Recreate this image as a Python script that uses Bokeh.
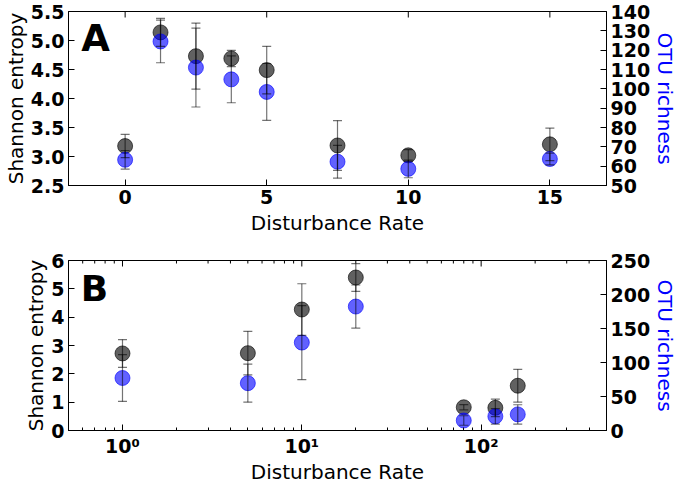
import numpy as np
from bokeh.plotting import figure
from bokeh.models import (Range1d, LinearAxis, FixedTicker, Label,
                          CustomJSTickFormatter, PrintfTickFormatter)
from bokeh.layouts import column
from bokeh.embed import file_html
from bokeh.resources import INLINE

# ---------------- data: panel A ----------------
a_rate = [0, 1.25, 2.5, 3.75, 5, 7.5, 10, 15]
a_shannon = [3.18, 5.14, 4.73, 4.69, 4.49, 3.19, 3.02, 3.21]
a_shannon_err = [0.20, 0.24, 0.57, 0.14, 0.41, 0.43, 0.10, 0.28]
a_otu = [63.3, 124.5, 111.0, 104.9, 98.4, 62.3, 58.6, 63.7]
a_otu_err = [4.8, 11.0, 20.4, 12.1, 14.7, 8.5, 4.6, 3.0]

a_x_ticks = [0, 5, 10, 15]
a_left_ticks = [2.5, 3.0, 3.5, 4.0, 4.5, 5.0, 5.5]
a_right_ticks = [50, 60, 70, 80, 90, 100, 110, 120, 130, 140]

# ---------------- data: panel B ----------------
b_rate = [1, 5, 10, 20, 80, 120, 160]
b_shannon = [2.72, 2.73, 4.27, 5.40, 0.82, 0.80, 1.58]
b_shannon_err = [0.49, 0.77, 0.91, 0.49, 0.09, 0.31, 0.58]
b_otu = [77.2, 69.6, 129.3, 182.3, 14.7, 20.8, 23.7]
b_otu_err = [34.5, 28.0, 54.4, 31.7, 7.0, 11.4, 14.2]

b_x_ticks = [1, 10, 100]
b_x_minor = [0.5, 0.6, 0.7, 0.8, 0.9, 2, 3, 4, 5, 6, 7, 8, 9,
             20, 30, 40, 50, 60, 70, 80, 90, 200, 300, 400, 500]
b_left_ticks = [0, 1, 2, 3, 4, 5, 6]
b_right_ticks = [0, 50, 100, 150, 200, 250]

FONT = "DejaVu Sans"
TICK_FS = "19px"
LABEL_FS = "20px"
W = 680


def style_axis(ax, label_color="black"):
    ax.major_label_text_font = FONT
    ax.major_label_text_font_style = "bold"
    ax.major_label_text_font_size = TICK_FS
    ax.major_label_text_color = "black"
    ax.axis_label_text_font = FONT
    ax.axis_label_text_font_style = "normal"
    ax.axis_label_text_font_size = LABEL_FS
    ax.axis_label_text_color = label_color
    ax.major_tick_in = 6
    ax.major_tick_out = 0
    ax.minor_tick_in = 3
    ax.minor_tick_out = 0
    ax.major_tick_line_color = "black"
    ax.minor_tick_line_color = "black"
    ax.axis_line_color = "black"
    ax.major_label_standoff = 4
    ax.axis_label_standoff = 0


def top_ticks(p, ticks, y_top, size):
    # inward tick marks along the top spine (half of each mark is clipped)
    p.scatter(ticks, [y_top] * len(ticks), marker="dash", angle=np.pi / 2,
              size=size, line_color="black", line_width=1)


def add_series(p, x, y, err, color, range_name=None):
    y = np.asarray(y, dtype=float)
    err = np.asarray(err, dtype=float)
    kw = {} if range_name is None else {"y_range_name": range_name}
    p.scatter(x, y, size=15, marker="circle", fill_color=color, fill_alpha=0.62,
              line_color=color, line_alpha=0.62, **kw)
    return (x, y - err, y + err, kw)


def add_errors(p, spec):
    x, lo, hi, kw = spec
    p.segment(x0=x, y0=lo, x1=x, y1=hi, line_color="black", line_alpha=0.55,
              line_width=1.2, **kw)
    p.scatter(x, lo, marker="dash", size=9, line_color="black", line_alpha=0.55,
              line_width=1.2, **kw)
    p.scatter(x, hi, marker="dash", size=9, line_color="black", line_alpha=0.55,
              line_width=1.2, **kw)


def base_fig(height, x_range, y_range, x_type, min_top, min_bottom):
    p = figure(width=W, height=height, x_range=x_range, y_range=y_range,
               x_axis_type=x_type, output_backend="svg", toolbar_location=None,
               min_border_left=62, min_border_right=64,
               min_border_top=min_top, min_border_bottom=min_bottom)
    p.xgrid.visible = False
    p.ygrid.visible = False
    p.outline_line_color = "black"
    p.outline_line_width = 1
    p.outline_line_alpha = 1
    p.background_fill_color = "white"
    p.border_fill_color = "white"
    return p


# ---------------- panel A ----------------
pA = base_fig(240, Range1d(-2, 17), Range1d(2.5, 5.5), "linear", 11, 55)
pA.extra_y_ranges = {"otu": Range1d(50, 140)}

pA.xaxis.ticker = FixedTicker(ticks=a_x_ticks)
pA.xaxis.axis_label = "Disturbance Rate"
pA.yaxis.ticker = FixedTicker(ticks=a_left_ticks)
pA.yaxis.formatter = PrintfTickFormatter(format="%.1f")
pA.yaxis.axis_label = "Shannon entropy"
for ax in pA.xaxis + pA.yaxis:
    style_axis(ax)
    ax.minor_tick_line_color = None
pA.xaxis.axis_label_standoff = 4

rA = LinearAxis(y_range_name="otu", ticker=FixedTicker(ticks=a_right_ticks),
                axis_label="OTU richness")
style_axis(rA, "blue")
rA.minor_tick_line_color = None
pA.add_layout(rA, "right")

top_ticks(pA, a_x_ticks, 5.5, 12)

sA1 = add_series(pA, a_rate, a_shannon, a_shannon_err, "black")
sA2 = add_series(pA, a_rate, a_otu, a_otu_err, "blue", "otu")
add_errors(pA, sA1)
add_errors(pA, sA2)

pA.add_layout(Label(x=-1.55, y=5.04, text="A", text_font=FONT,
                    text_font_style="bold", text_font_size="37px",
                    text_baseline="alphabetic", text_color="black"))

# ---------------- panel B ----------------
pB = base_fig(246, Range1d(0.5, 500), Range1d(0, 6), "log", 20, 50)
pB.extra_y_ranges = {"otu": Range1d(0, 250)}

sup_fmt = CustomJSTickFormatter(code="""
    const e = Math.round(Math.log10(tick));
    const sup = ['\u2070', '\u00b9', '\u00b2', '\u00b3'];
    return '10' + sup[e];
""")
pB.xaxis.ticker = FixedTicker(ticks=b_x_ticks, minor_ticks=b_x_minor)
pB.xaxis.formatter = sup_fmt
pB.xaxis.axis_label = "Disturbance Rate"
pB.yaxis.ticker = FixedTicker(ticks=b_left_ticks)
pB.yaxis.axis_label = "Shannon entropy"
for ax in pB.xaxis + pB.yaxis:
    style_axis(ax)
pB.yaxis.minor_tick_line_color = None

rB = LinearAxis(y_range_name="otu", ticker=FixedTicker(ticks=b_right_ticks),
                axis_label="OTU richness")
style_axis(rB, "blue")
rB.minor_tick_line_color = None
pB.add_layout(rB, "right")

top_ticks(pB, b_x_ticks, 6, 12)
top_ticks(pB, b_x_minor, 6, 6)

sB1 = add_series(pB, b_rate, b_shannon, b_shannon_err, "black")
sB2 = add_series(pB, b_rate, b_otu, b_otu_err, "blue", "otu")
add_errors(pB, sB1)
add_errors(pB, sB2)

pB.add_layout(Label(x=0.585, y=5.0, text="B", text_font=FONT,
                    text_font_style="bold", text_font_size="36px",
                    text_baseline="alphabetic", text_color="black"))

layout = column(pA, pB, spacing=0)
open("out.html", "w").write(file_html(layout, INLINE))
